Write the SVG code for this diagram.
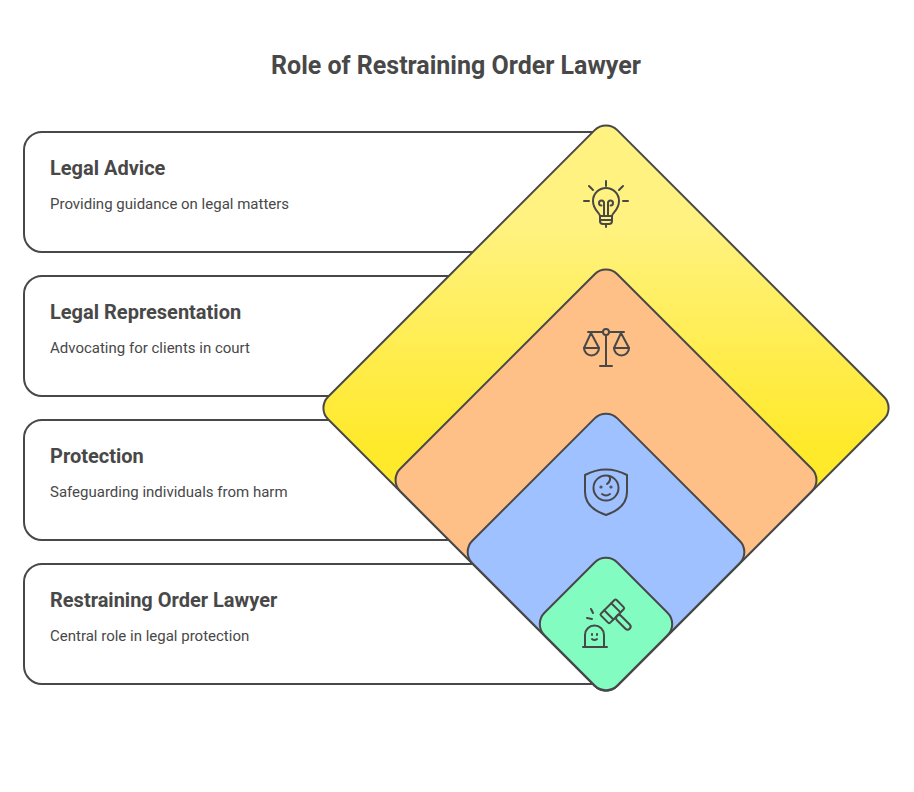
<svg xmlns="http://www.w3.org/2000/svg" width="914" height="792" viewBox="0 0 914 792">
<style>
.card{fill:#fff;stroke:#484848;stroke-width:2}
.dia{stroke:#484848;stroke-width:2}
.ic{fill:none;stroke:#484848;stroke-width:2;stroke-linecap:round;stroke-linejoin:round}
text{font-family:Roboto,"Liberation Sans",sans-serif;fill:#484848}
.title{font-size:25px;font-weight:700;text-anchor:middle}
.h{font-size:20px;font-weight:700}
.d{font-size:15px}
</style>
<defs>
<linearGradient id="yg" x1="0" y1="0" x2="1" y2="1">
<stop offset="0.184" stop-color="#fff280"/><stop offset="0.564" stop-color="#ffe92b"/>
</linearGradient>
</defs>
<rect width="914" height="792" fill="#fff"/>
<text class="title" x="456" y="74">Role of Restraining Order Lawyer</text>
<g id="card-advice"><rect class="card" x="24" y="132" width="590" height="120" rx="18"/>
<text class="h" x="50" y="175">Legal Advice</text><text class="d" x="50" y="209">Providing guidance on legal matters</text></g>
<g id="card-representation"><rect class="card" x="24" y="276" width="590" height="120" rx="18"/>
<text class="h" x="50" y="319">Legal Representation</text><text class="d" x="50" y="353">Advocating for clients in court</text></g>
<g id="card-protection"><rect class="card" x="24" y="420" width="590" height="120" rx="18"/>
<text class="h" x="50" y="463">Protection</text><text class="d" x="50" y="497">Safeguarding individuals from harm</text></g>
<g id="card-lawyer"><rect class="card" x="24" y="564" width="590" height="120" rx="18"/>
<text class="h" x="50" y="607">Restraining Order Lawyer</text><text class="d" x="50" y="641">Central role in legal protection</text></g>
<g id="diamond-yellow"><rect class="dia" fill="url(#yg)" x="401.500" y="203.500" width="409" height="409" rx="16" transform="rotate(45 606 408)"/>
<g class="ic"><path d="M606 181v5M589 186l4 4M623 186l-4 4M584 201h5M623 201h5"/><path d="M600 216c0-3-7-6-7-15a13 13 0 0 1 26 0c0 9-7 12-7 15z"/><path d="M604 216v-13a2.500 2.500 0 1 0-5 0c0 1.500 1 2.500 2.500 2.500M608 216v-13a2.500 2.500 0 1 1 5 0c0 1.500-1 2.500-2.500 2.500"/><path d="M600 216h12v5q0 3-3 3h-6q-3 0-3-3zM600 220h12M606 224v3"/></g></g>
<g id="diamond-orange"><rect class="dia" fill="#ffc088" x="452.500" y="326.500" width="307" height="307" rx="16" transform="rotate(45 606 480)"/>
<g class="ic"><circle cx="606" cy="332" r="3"/><path d="M606 335v31M600 366h12M588 332h15M609 332h15"/><path d="M591 333l-7 15h15zM621 333l-7 15h15z"/><path d="M584 348a7.500 7.500 0 0 0 15 0M614 348a7.500 7.500 0 0 0 15 0"/></g></g>
<g id="diamond-blue"><rect class="dia" fill="#9fc1ff" x="503.500" y="449.500" width="205" height="205" rx="16" transform="rotate(45 606 552)"/>
<g class="ic"><path d="M585 475Q606 464 627 475V492Q627 508 606 515Q585 508 585 492Z"/><circle cx="606" cy="488" r="12.500"/><path d="M609 476q3 4-2 8M602 494q4 3 8 0"/><circle cx="601" cy="487" r=".6"/><circle cx="611" cy="487" r=".6"/></g></g>
<g id="diamond-green"><rect class="dia" fill="#83fcc1" x="554.500" y="572.500" width="103" height="103" rx="16" transform="rotate(45 606 624)"/>
<g class="ic"><path d="M583 647h24M585 647v-12a9.500 9.500 0 0 1 19 0v12"/><path d="M592 639q2.500 2 5 0M592 634v1M597 634v1"/><path d="M587 618l5 1M591 609l2 4"/>
<g transform="rotate(45 612 611)"><rect x="606" y="600" width="13" height="22" rx="1.500"/><path d="M606 606h13M606 616h13"/><rect x="619" y="608" width="18" height="6" rx="3"/></g></g></g>
</svg>
